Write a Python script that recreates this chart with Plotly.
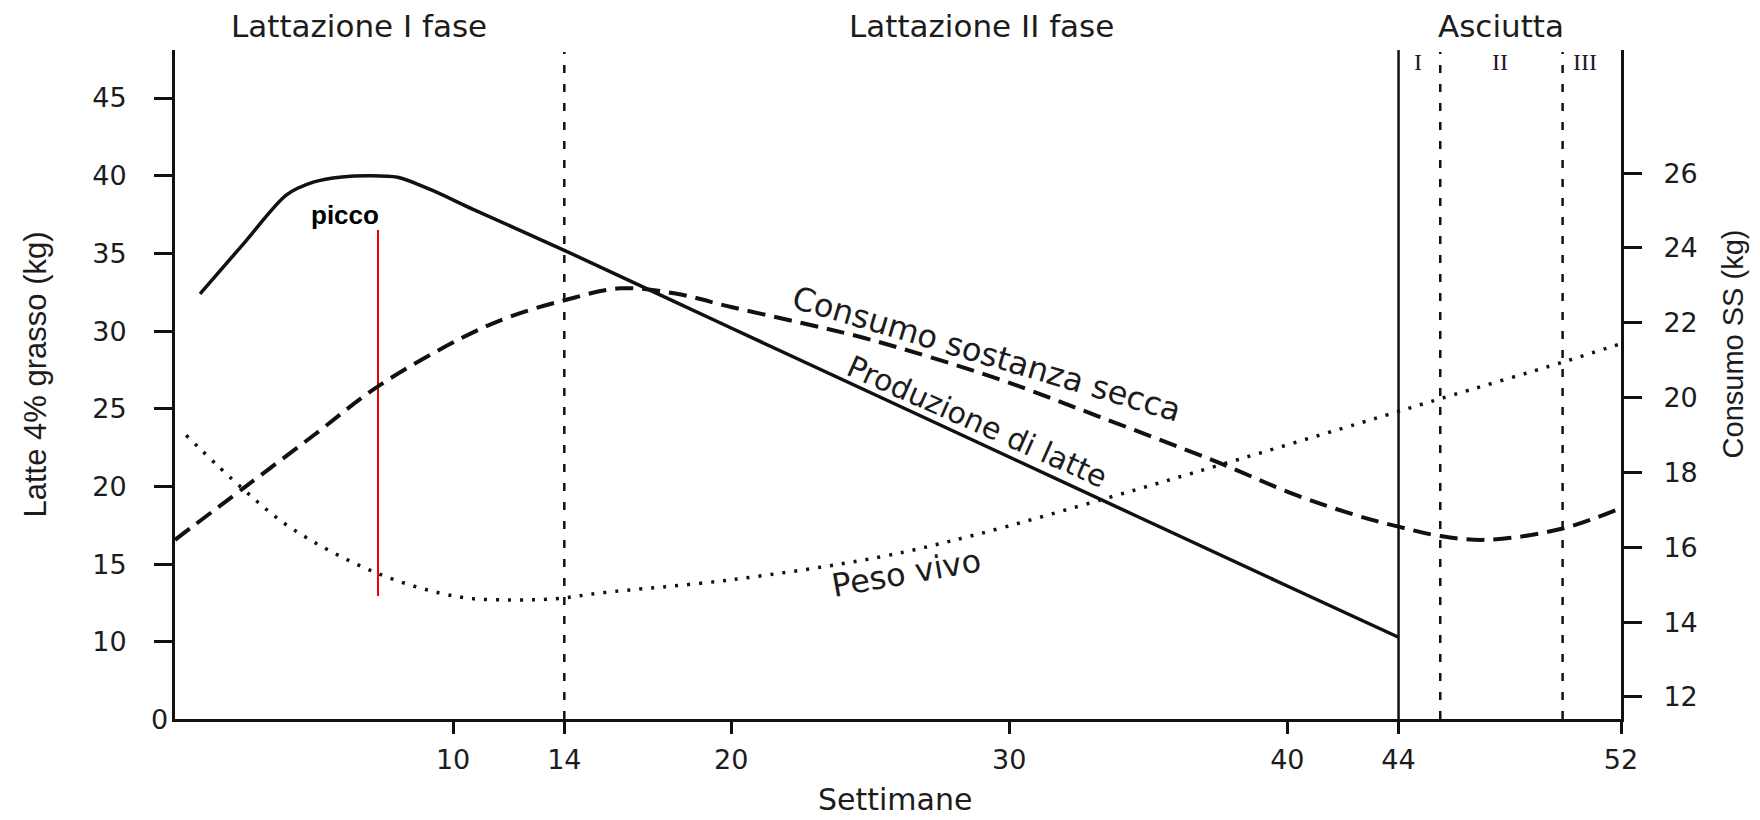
import plotly.graph_objects as go

# ---------------- data ----------------
# Produzione di latte (left axis, kg latte 4% grasso)
milk_weeks = [0.9, 2.5, 4.0, 5.0, 6.0, 7.0, 8.0, 9.2, 10.7, 14, 20, 30, 40, 44]
milk_kg = [32.4, 35.7, 38.75, 39.6, 39.92, 40.0, 39.9, 39.1, 37.85, 35.2, 30.2, 21.9, 13.6, 10.3]

# Consumo sostanza secca (right axis, kg SS)
dmi_weeks = [0, 2.5, 5, 7.3, 10.2, 12, 14, 16, 18, 20, 22.5, 25, 29.6, 33.2, 37.4, 40.3, 42.5, 44, 45.5, 47.2, 49.9, 52]
dmi_kg = [16.2, 17.6, 19.0, 20.3, 21.55, 22.15, 22.6, 22.92, 22.78, 22.42, 22.0, 21.55, 20.5, 19.5, 18.3, 17.4, 16.85, 16.55, 16.3, 16.2, 16.5, 17.05]

# Peso vivo (schematic, plotted against left scale)
bw_weeks = [0.4, 2.5, 4.2, 7.3, 10.2, 12.2, 13.8, 15.3, 20, 25.3, 28.8, 33.6, 37.6, 43.2, 45.5, 49.9, 52]
bw_index = [23.3, 19.75, 17.3, 14.4, 12.9, 12.7, 12.8, 13.15, 14.0, 15.45, 16.9, 19.3, 21.4, 24.4, 25.65, 28.0, 29.2]

# phase boundaries (weeks)
phase_solid = [44]
phase_dashed = [14, 45.5, 49.9]

# peak marker
peak_week = 7.3
peak_line = [36.5, 12.95]

# axes
x_ticks = [10, 14, 20, 30, 40, 44, 52]
left_ticks = [10, 15, 20, 25, 30, 35, 40, 45]
right_ticks = [12, 14, 16, 18, 20, 22, 24, 26]
x_range = [0, 52]
left_range = [5.04, 48.09]
right_range = [11.41, 29.29]

headers = [("Lattazione I fase", 6.6), ("Lattazione II fase", 29.0), ("Asciutta", 47.7)]
dry_subphases = [("I", 44.7), ("II", 47.65), ("III", 50.7)]

INK = "#111111"
TXT = "#1c1c1c"
SANS = "DejaVu Sans"

fig = go.Figure()

fig.add_trace(go.Scatter(
    x=milk_weeks, y=milk_kg, mode="lines", yaxis="y",
    line=dict(color=INK, width=3.5, shape="spline", smoothing=0.8),
    hoverinfo="skip"))
fig.add_trace(go.Scatter(
    x=dmi_weeks, y=dmi_kg, mode="lines", yaxis="y2",
    line=dict(color=INK, width=4, dash="18px,9px", shape="spline", smoothing=1.0),
    hoverinfo="skip"))
fig.add_trace(go.Scatter(
    x=bw_weeks, y=bw_index, mode="lines", yaxis="y",
    line=dict(color=INK, width=3.5, dash="3px,9px", shape="spline", smoothing=1.0),
    hoverinfo="skip"))
fig.add_trace(go.Scatter(
    x=[peak_week, peak_week], y=peak_line, mode="lines", yaxis="y",
    line=dict(color="#ee0000", width=2), hoverinfo="skip"))

shapes = []
for w in phase_solid:
    shapes.append(dict(type="line", xref="x", yref="paper", x0=w, x1=w, y0=0, y1=1,
                       line=dict(color=INK, width=2.5)))
for w in phase_dashed:
    shapes.append(dict(type="line", xref="x", yref="paper", x0=w, x1=w, y0=0, y1=0.997,
                       line=dict(color=INK, width=2.5, dash="8px,11px")))

ann = []
for t, xw in headers:
    ann.append(dict(text=t, x=xw, xref="x", y=1.036, yref="paper", showarrow=False,
                    xanchor="center", yanchor="middle",
                    font=dict(family=SANS, size=31, color=TXT)))
for t, xw in dry_subphases:
    ann.append(dict(text=t, x=xw, xref="x", y=0.982, yref="paper", showarrow=False,
                    xanchor="center", yanchor="middle",
                    font=dict(family="Liberation Serif", size=24, color=TXT)))

# curve labels
ann.append(dict(text="Consumo sostanza secca", x=29.2, y=28.5, xref="x", yref="y",
                textangle=16.5, showarrow=False,
                font=dict(family=SANS, size=32, color=TXT)))
ann.append(dict(text="Produzione di latte", x=28.85, y=24.2, xref="x", yref="y",
                textangle=24, showarrow=False,
                font=dict(family=SANS, size=30, color=TXT)))
ann.append(dict(text="Peso vivo", x=26.3, y=14.45, xref="x", yref="y",
                textangle=-10, showarrow=False,
                font=dict(family=SANS, size=32, color=TXT)))
ann.append(dict(text="<b>picco</b>", x=6.1, y=37.5, xref="x", yref="y",
                showarrow=False, font=dict(family="Liberation Sans", size=26, color="#000")))

# broken-axis zero label
ann.append(dict(text="0", x=-0.0105, xref="paper", y=left_range[0], yref="y",
                showarrow=False, xanchor="center", yanchor="middle",
                font=dict(family=SANS, size=27, color=TXT)))

# axis titles
ann.append(dict(text="Latte 4% grasso (kg)", x=-0.0968, y=0.515, xref="paper", yref="paper",
                textangle=-90, showarrow=False, xanchor="center", yanchor="middle",
                font=dict(family="Liberation Sans", size=31, color=TXT)))
ann.append(dict(text="Consumo SS (kg)", x=1.0775, y=0.56, xref="paper", yref="paper",
                textangle=-90, showarrow=False, xanchor="center", yanchor="middle",
                font=dict(family="Liberation Sans", size=29, color=TXT)))
ann.append(dict(text="Settimane", x=0.498, y=-0.121, xref="paper", yref="paper",
                showarrow=False, xanchor="center", yanchor="middle",
                font=dict(family=SANS, size=30, color=TXT)))

tickfont = dict(family=SANS, size=27, color=TXT)

fig.update_layout(
    width=1760, height=820,
    margin=dict(l=175, r=139, t=50, b=101),
    paper_bgcolor="white", plot_bgcolor="white",
    showlegend=False,
    shapes=shapes, annotations=ann,
    xaxis=dict(range=x_range, tickvals=x_ticks, ticks="outside", ticklen=12, tickwidth=2.5,
               tickcolor=INK, showline=True, linewidth=3, linecolor=INK, showgrid=False,
               zeroline=False, tickfont=tickfont, ticklabelstandoff=3, fixedrange=True),
    yaxis=dict(range=left_range, tickvals=left_ticks, ticks="outside", ticklen=18, tickwidth=2.5,
               tickcolor=INK, showline=True, linewidth=3, linecolor=INK, showgrid=False,
               zeroline=False, tickfont=tickfont, ticklabelstandoff=22, fixedrange=True),
    yaxis2=dict(range=right_range, tickvals=right_ticks, overlaying="y", side="right",
                ticks="outside", ticklen=18, tickwidth=2.5, tickcolor=INK, showline=True,
                linewidth=3, linecolor=INK, showgrid=False, zeroline=False,
                tickfont=tickfont, ticklabelstandoff=16, fixedrange=True),
)

fig.write_html(
    "out.html",
    config={"displayModeBar": False},
    post_script="document.body.style.margin='0';document.body.style.overflow='hidden';",
)
